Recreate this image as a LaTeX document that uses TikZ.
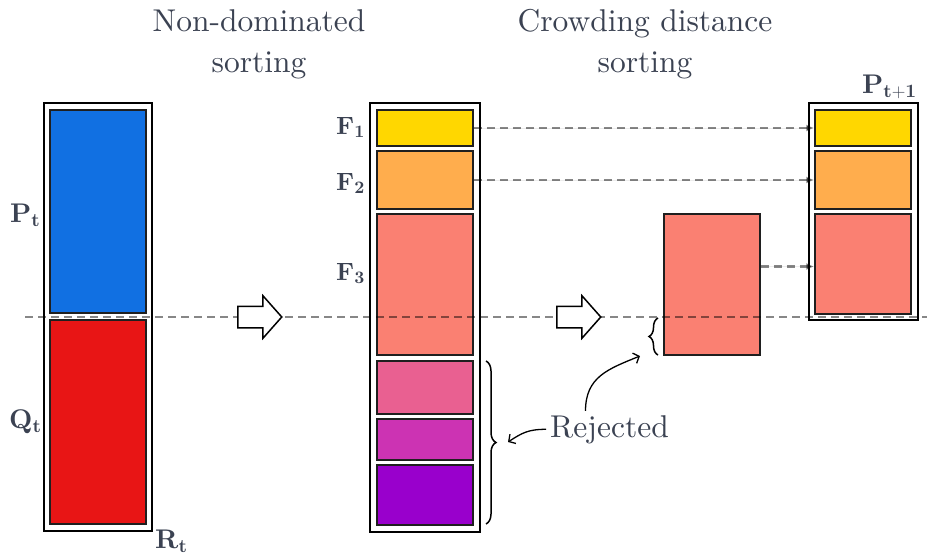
\documentclass[tikz,border=0pt]{standalone}
\usepackage{fix-cm}
\usepackage{fontspec}
\setmainfont{lmroman10-regular}[Extension=.otf, BoldFont=lmroman10-bold,
  ItalicFont=lmroman10-italic, BoldItalicFont=lmroman10-bolditalic]
\usetikzlibrary{arrows.meta,shapes.arrows,decorations.pathreplacing}

\definecolor{textc}{RGB}{59,66,82}
\definecolor{cblue}{RGB}{17,112,226}
\definecolor{cred}{RGB}{232,21,21}
\definecolor{cyellow}{RGB}{255,215,0}
\definecolor{corange}{RGB}{255,173,77}
\definecolor{csalmon}{RGB}{250,128,114}
\definecolor{cpink}{RGB}{233,96,145}
\definecolor{cmagenta}{RGB}{204,51,179}
\definecolor{cpurple}{RGB}{153,0,204}

\begin{document}
\begin{tikzpicture}[x=1pt,y=-1pt,
  heading/.style={text=textc, inner sep=0pt, align=center,
    font=\fontsize{31.5}{41}\selectfont},
  biglbl/.style={text=textc, inner sep=0pt, anchor=base west,
    font=\fontsize{27}{30}\selectfont},
  smalllbl/.style={text=textc, inner sep=0pt, anchor=base west,
    font=\fontsize{25}{28}\selectfont},
  column/.style={draw=black, line width=1.8pt, fill=white, inner sep=0pt,
    minimum width=108pt},
  cell/.style={draw=black!88, line width=1.5pt, inner sep=0pt,
    minimum width=96pt},
  dashline/.style={draw=black, draw opacity=0.47, line width=2.4pt,
    dash pattern=on 8pt off 5pt},
  dasharrow/.style={dashline, fill=black, fill opacity=0.6,
    -{Latex[length=8pt,width=7pt]}},
  blockarrow/.style={single arrow, draw=black, fill=white, line width=1.5pt,
    inner sep=10pt, minimum height=44pt, single arrow head extend=10.5pt,
    single arrow tip angle=97, anchor=tail},
  bracepath/.style={draw=black, line width=1.5pt,
    decorate, decoration={brace, amplitude=#1}},
  pointer/.style={draw=black, line width=1.3pt,
    -{Straight Barb[length=5pt,width=11pt]}}
]
\useasboundingbox (0,0) rectangle (927,554);

% headings
\node[heading, anchor=north] (h1) at (259,9) {Non-dominated\\sorting};
\node[heading, anchor=north] (h2) at (645,9) {Crowding distance\\sorting};

% combined population R_t
\node[column, minimum height=428pt] (Rt) at (98,317) {};
\node[cell, fill=cblue, minimum height=203pt] (Pt) at (98,211.5) {};
\node[cell, fill=cred, minimum height=204pt] (Qt) at (98,422) {};
\node[biglbl] (lPt) at (10,222) {$\mathbf{P}_{\mathbf{t}}$};
\node[biglbl] (lQt) at (9,428) {$\mathbf{Q}_{\mathbf{t}}$};
\node[biglbl] (lRt) at (155,548) {$\mathbf{R}_{\mathbf{t}}$};

% fronts after non-dominated sorting
\node[column, minimum width=110pt, minimum height=429pt] (Fc) at (425,317.5) {};
\node[cell, fill=cyellow, minimum height=36pt] (F1) at (425,128) {};
\node[cell, fill=corange, minimum height=58pt] (F2) at (425,180) {};
\node[cell, fill=csalmon, minimum height=141pt] (F3) at (425,284.5) {};
\node[cell, fill=cpink, minimum height=53pt] (F4) at (425,387.5) {};
\node[cell, fill=cmagenta, minimum height=41pt] (F5) at (425,439.5) {};
\node[cell, fill=cpurple, minimum height=60pt] (F6) at (425,495) {};
\node[smalllbl] (lF1) at (336,134) {$\mathbf{F}_{\mathbf{1}}$};
\node[smalllbl] (lF2) at (336,190) {$\mathbf{F}_{\mathbf{2}}$};
\node[smalllbl] (lF3) at (336,280) {$\mathbf{F}_{\mathbf{3}}$};

% front F3 sorted by crowding distance
\node[cell, fill=csalmon, minimum height=141pt] (S3) at (712,284.5) {};

% next population P_{t+1}
\node[column, minimum width=109pt, minimum height=217pt] (Pn) at (863.5,211.5) {};
\node[cell, fill=cyellow, minimum height=36pt] (N1) at (863,128) {};
\node[cell, fill=corange, minimum height=58pt] (N2) at (863,180) {};
\node[cell, fill=csalmon, minimum height=100pt] (N3) at (863,264) {};
\node[biglbl] (lPn) at (862,93) {$\mathbf{P}_{\mathbf{t+1}}$};

% population size cut
\coordinate (cutL) at (25,317);
\coordinate (cutR) at (927,317);
\draw[dashline] (cutL) -- (cutR);

% selected fronts carried over
\draw[dasharrow] (F1.east) -- (N1.west);
\draw[dasharrow] (F2.east) -- (F2.east -| N2.west);
\draw[dasharrow] ([yshift=18pt]S3.east) -- ([yshift=18pt]S3.east -| N3.west);

% process arrows
\node[blockarrow] (A1) at (237,317) {};
\node[blockarrow] (A2) at (556,317) {};

% rejected parts
\coordinate (b1top) at (486,361);
\coordinate (b1bot) at (486,524);
\draw[bracepath=10pt] (b1top) -- (b1bot);
\coordinate (b2bot) at (658,355);
\coordinate (b2top) at (658,318);
\draw[bracepath=9pt] (b2bot) -- (b2top);

\node[text=textc, inner sep=4pt, anchor=base,
  font=\fontsize{31.5}{41}\selectfont] (Rej) at (609.5,437) {Rejected};
\coordinate (t1) at (508,442);
\coordinate (t2) at (640,356);
\draw[pointer] (Rej.west) .. controls +(-18,0) and +(14,-9) .. (t1);
\draw[pointer] ([xshift=-24pt]Rej.north) .. controls +(0,-34) and +(-32,13) .. (t2);
\end{tikzpicture}
\end{document}
